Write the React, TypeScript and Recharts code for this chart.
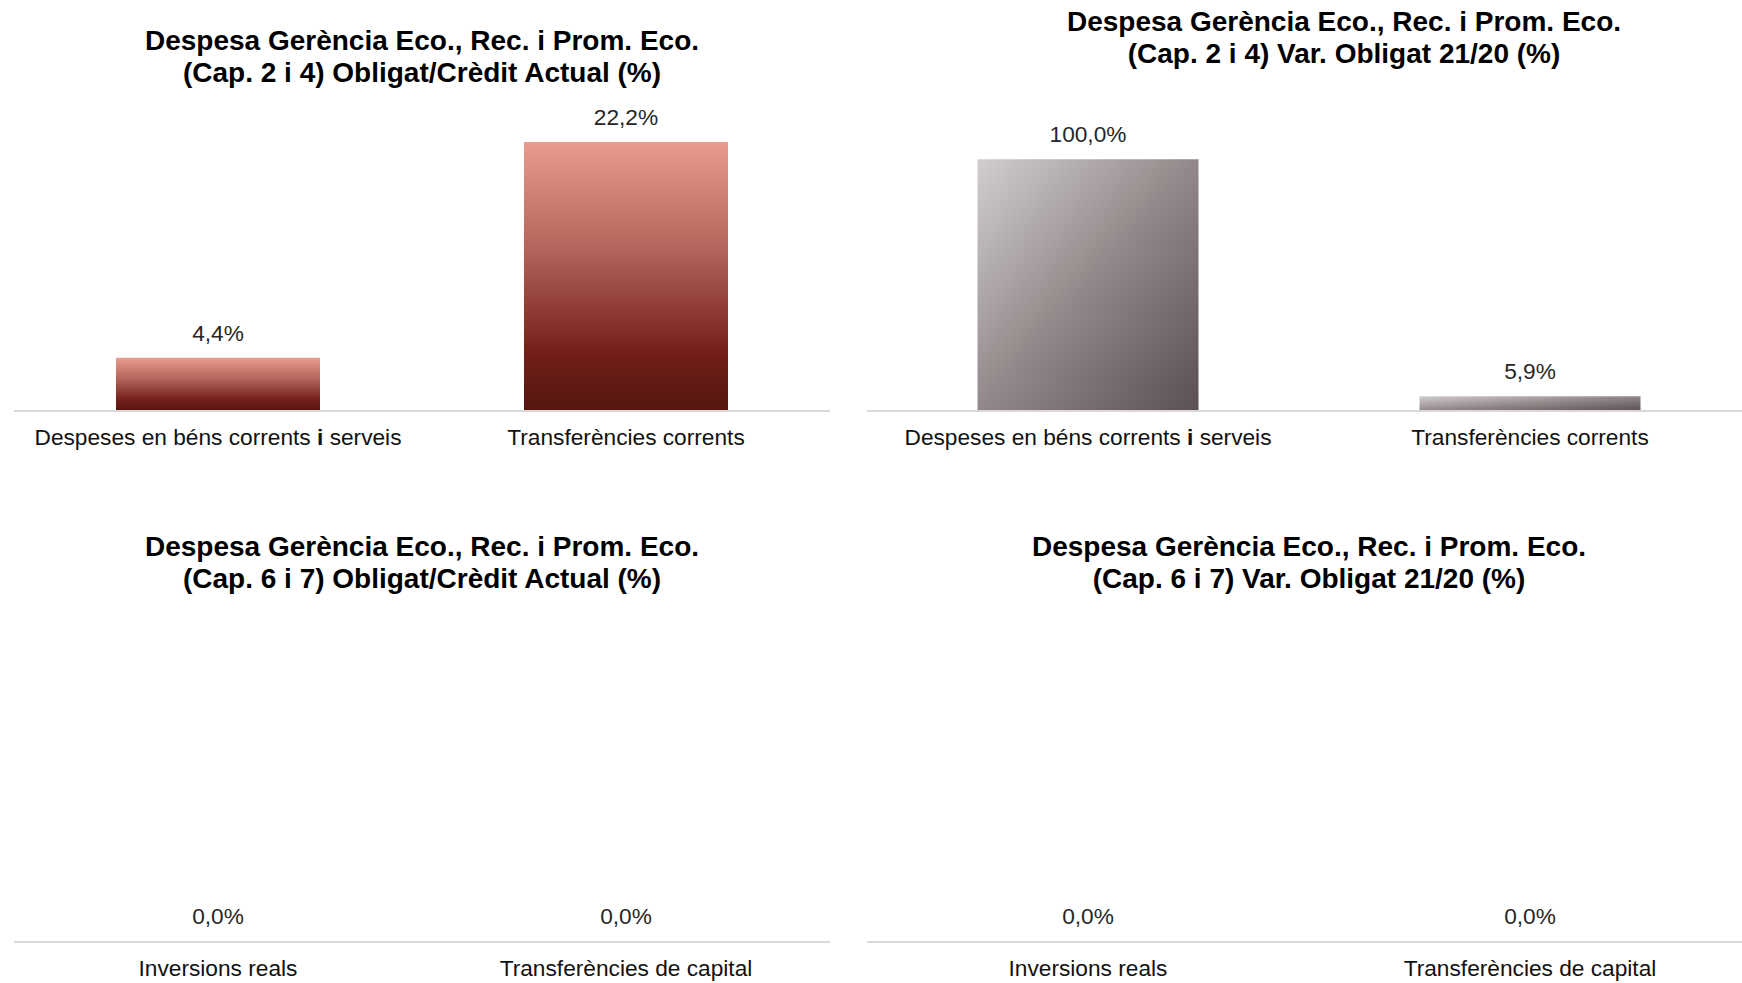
import React from 'react';
import { BarChart, Bar, XAxis, YAxis, LabelList, Cell } from 'recharts';

// ---------- data ----------
const categoriesCap24: string[] = ['Despeses en béns corrents i serveis', 'Transferències corrents'];
const categoriesCap67: string[] = ['Inversions reals', 'Transferències de capital'];

const obligatCreditCap24: number[] = [4.4, 22.2];
const varObligatCap24: number[] = [100.0, 5.9];
const obligatCreditCap67: number[] = [0.0, 0.0];
const varObligatCap67: number[] = [0.0, 0.0];

const titleObligatCap24: string[] = ['Despesa Gerència Eco., Rec. i Prom. Eco.', '(Cap. 2 i 4) Obligat/Crèdit Actual (%)'];
const titleVarCap24: string[] = ['Despesa Gerència Eco., Rec. i Prom. Eco.', '(Cap. 2 i 4) Var. Obligat 21/20 (%)'];
const titleObligatCap67: string[] = ['Despesa Gerència Eco., Rec. i Prom. Eco.', '(Cap. 6 i 7) Obligat/Crèdit Actual (%)'];
const titleVarCap67: string[] = ['Despesa Gerència Eco., Rec. i Prom. Eco.', '(Cap. 6 i 7) Var. Obligat 21/20 (%)'];

const FONT = '"Liberation Sans", Arial, Helvetica, sans-serif';

const fmt = (v: any) => Number(v).toFixed(1).replace('.', ',') + '%';

function renderLabelText(text: string) {
  const parts = text.split(' i ');
  if (parts.length === 1) return text;
  const out: React.ReactNode[] = [];
  parts.forEach((p, i) => {
    if (i > 0) {
      out.push(' ');
      out.push(
        <tspan key={'b' + i} fontWeight="bold">i</tspan>
      );
      out.push(' ');
    }
    out.push(p);
  });
  return out;
}

type PanelProps = {
  left: number;
  top: number;
  width: number;
  height: number;
  plotLeft: number;
  plotRight: number;
  plotTop: number;
  plotBottom: number;
  domainMax: number;
  title: string[];
  titleX: number;
  titleY: number;
  categories: string[];
  values: number[];
  gradId: string;
  gradient: 'red' | 'grey';
};

const X_AXIS_H = 40;

function Panel(props: PanelProps) {
  const {
    left, top, width, height, plotLeft, plotRight, plotTop, plotBottom,
    domainMax, title, titleX, titleY, categories, values, gradId, gradient,
  } = props;
  const data = categories.map((name, i) => ({ name, value: values[i] }));
  const margin = {
    top: plotTop - top,
    left: plotLeft - left,
    right: left + width - plotRight,
    bottom: top + height - plotBottom - X_AXIS_H,
  };
  const localAxisY = plotBottom - top;

  const Tick = (p: any) => (
    <text
      x={p.x}
      y={localAxisY + 34}
      textAnchor="middle"
      fontFamily={FONT}
      fontSize={22.7}
      fill="#111111"
    >
      {renderLabelText(String(p.payload.value))}
    </text>
  );

  return (
    <>
      <div
        style={{
          position: 'absolute',
          left: titleX - 450,
          top: titleY - 16,
          width: 900,
          textAlign: 'center',
          fontFamily: FONT,
          fontWeight: 'bold',
          fontSize: 28,
          lineHeight: '32px',
          color: '#000',
          whiteSpace: 'nowrap',
          zIndex: 2,
        }}
      >
        {title.map((t, i) => (
          <div key={i}>{t}</div>
        ))}
      </div>
      <div style={{ position: 'absolute', left, top, width, height }}>
        <BarChart width={width} height={height} data={data} margin={margin} barCategoryGap="25%">
          <defs>
            {gradient === 'red' ? (
              <linearGradient id={gradId} x1="0" y1="0" x2="0" y2="1">
                <stop offset="0%" stopColor="#EA9C91" />
                <stop offset="40%" stopColor="#B4645A" />
                <stop offset="78%" stopColor="#732019" />
                <stop offset="100%" stopColor="#53160F" />
              </linearGradient>
            ) : (
              <linearGradient id={gradId} x1="0" y1="0" x2="1" y2="1">
                <stop offset="0%" stopColor="#D2CECE" />
                <stop offset="50%" stopColor="#928889" />
                <stop offset="100%" stopColor="#5A5052" />
              </linearGradient>
            )}
          </defs>
          <XAxis
            dataKey="name"
            height={X_AXIS_H}
            axisLine={{ stroke: '#D9D9D9', strokeWidth: 2 }}
            tickLine={false}
            interval={0}
            tick={Tick}
          />
          <YAxis hide domain={[0, domainMax]} />
          <Bar dataKey="value" fill={`url(#${gradId})`} minPointSize={1} isAnimationActive={false}>
            {data.map((d, i) => (
              <Cell key={i} fill={d.value === 0 ? 'none' : `url(#${gradId})`} />
            ))}
            <LabelList
              dataKey="value"
              position="top"
              offset={17}
              formatter={fmt}
              style={{ fontFamily: FONT, fontSize: 22.7, fill: '#262626' }}
            />
          </Bar>
        </BarChart>
      </div>
    </>
  );
}

export default function App() {
  return (
    <div
      style={{
        position: 'absolute',
        left: 0,
        top: 0,
        width: 1742,
        height: 983,
        overflow: 'hidden',
        background: '#ffffff',
      }}
    >
      <Panel
        left={0} top={0} width={871} height={480}
        plotLeft={14} plotRight={830} plotTop={108} plotBottom={411}
        domainMax={25}
        title={titleObligatCap24} titleX={422} titleY={41}
        categories={categoriesCap24} values={obligatCreditCap24}
        gradId="gradRed1" gradient="red"
      />
      <Panel
        left={860} top={0} width={900} height={480}
        plotLeft={867} plotRight={1751} plotTop={109} plotBottom={411}
        domainMax={120}
        title={titleVarCap24} titleX={1344} titleY={22}
        categories={categoriesCap24} values={varObligatCap24}
        gradId="gradGrey1" gradient="grey"
      />
      <Panel
        left={0} top={480} width={871} height={503}
        plotLeft={14} plotRight={830} plotTop={640} plotBottom={942}
        domainMax={1}
        title={titleObligatCap67} titleX={422} titleY={547}
        categories={categoriesCap67} values={obligatCreditCap67}
        gradId="gradRed2" gradient="red"
      />
      <Panel
        left={860} top={480} width={900} height={503}
        plotLeft={867} plotRight={1751} plotTop={640} plotBottom={942}
        domainMax={1}
        title={titleVarCap67} titleX={1309} titleY={547}
        categories={categoriesCap67} values={varObligatCap67}
        gradId="gradGrey2" gradient="grey"
      />
    </div>
  );
}
